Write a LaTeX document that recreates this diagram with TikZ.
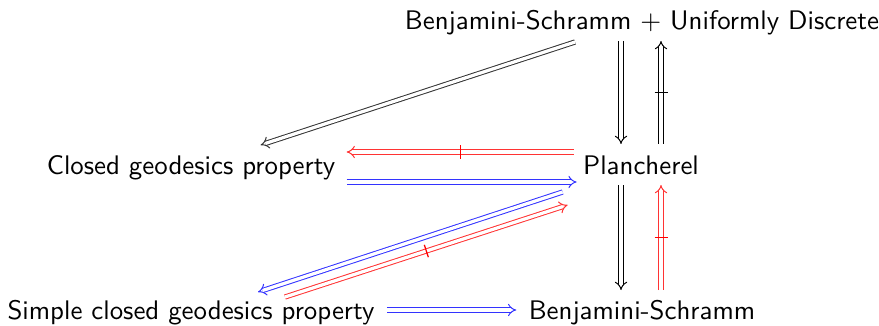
\documentclass[tikz,border=0pt]{standalone}
\usepackage{fontspec}
\usetikzlibrary{arrows.meta,calc}
\colorlet{cred}{red!80}
\colorlet{cblue}{blue!80}
\colorlet{cgray}{black!80}
\tikzset{
  lbl/.style={anchor=base, inner sep=0pt, font=\sffamily\fontsize{10.75pt}{13pt}\selectfont},
  imp/.style={double, double distance=1.3pt, line width=0.4pt, -{Implies[scale=1.6]}},
  tick/.style={line width=0.5pt},
}
\begin{document}
\begin{tikzpicture}[x=0.4pt, y=-0.4pt]
\useasboundingbox (0,0) rectangle (879,326);
\node[lbl] (BSUD) at (642,30) {Benjamini-Schramm + Uniformly Discrete};
\node[lbl] (CGP) at (191,174) {Closed geodesics property};
\node[lbl] (P) at (641,174) {Plancherel};
\node[lbl] (SCGP) at (191,319) {Simple closed geodesics property};
\node[lbl] (BS) at (642,319) {Benjamini-Schramm};

% 1
\draw[imp, cgray] ($(BSUD.base)+(-67,12)$) -- ($(CGP.base east)+(-75,-29)$);
% 2
\draw[imp, black] ($(BSUD.base)+(-21,11)$) -- ($(P.base)+(-20,-30)$);
% 3
\draw[imp, black] ($(P.base)+(20,-30)$) -- coordinate[pos=0.5] (m3) coordinate[pos=0.6] (n3) ($(BSUD.base)+(19,11)$);
\draw[tick, black] ($(m3)!2.6pt!90:(n3)$) -- ($(m3)!2.6pt!-90:(n3)$);
% 4
\draw[imp, cred] ($(P.base west)+(-9,-22)$) -- coordinate[pos=0.5] (m4) coordinate[pos=0.6] (n4) ($(CGP.base east)+(11,-22)$);
\draw[tick, red] ($(m4)!2.6pt!90:(n4)$) -- ($(m4)!2.6pt!-90:(n4)$);
% 5
\draw[imp, cblue] ($(CGP.base east)+(11,8)$) -- ($(P.base west)+(-6,8)$);
% 6
\draw[imp, cblue] ($(P.base west)+(-20,18)$) -- ($(SCGP.base)+(67,-27)$);
% 7
\draw[imp, cred] ($(SCGP.base)+(94,-22)$) -- coordinate[pos=0.5] (m7) coordinate[pos=0.6] (n7) ($(P.base west)+(-15,31)$);
\draw[tick, red] ($(m7)!2.6pt!90:(n7)$) -- ($(m7)!2.6pt!-90:(n7)$);
% 8
\draw[imp, black] ($(P.base)+(-20,11)$) -- ($(BS.base)+(-21,-29)$);
% 9
\draw[imp, cred] ($(BS.base)+(19,-29)$) -- coordinate[pos=0.5] (m9) coordinate[pos=0.6] (n9) ($(P.base)+(20,11)$);
\draw[tick, red] ($(m9)!2.6pt!90:(n9)$) -- ($(m9)!2.6pt!-90:(n9)$);
% 10
\draw[imp, cblue] ($(SCGP.base east)+(12,-9)$) -- ($(BS.base west)+(-12,-9)$);
\end{tikzpicture}
\end{document}
